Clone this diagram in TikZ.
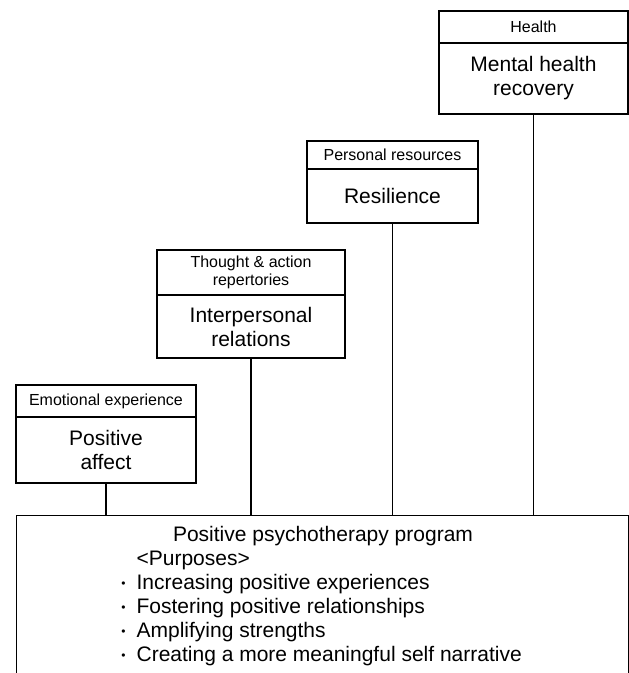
\documentclass[tikz,border=0pt]{standalone}
\usepackage{fontspec}
\setmainfont{Liberation Sans}
\newcommand{\dotmark}{\llap{\fontsize{12}{12}\selectfont\raisebox{1.5pt}{•}\hspace{11pt}}}
\begin{document}
\begin{tikzpicture}[x=1pt,y=1pt,line width=1.2pt,
  headbox/.style={draw,inner sep=0pt,align=center,font=\fontsize{16}{18}\selectfont},
  mainbox/.style={draw,inner sep=0pt,align=center,font=\fontsize{21}{24}\selectfont},
  purpose/.style={anchor=base west,inner sep=0pt,font=\fontsize{21}{24}\selectfont}]
\useasboundingbox (0,0) rectangle (629,673);
% ---------- stacked outcome boxes ----------
\node[headbox,minimum width=180pt,minimum height=32pt] (emotitle) at (106,272) {Emotional experience};
\node[mainbox,minimum width=180pt,minimum height=66pt] (affect) at (106,223) {Positive\\affect};
\node[headbox,minimum width=188pt,minimum height=45pt] (thoughttitle) at (251,400.5) {Thought \& action\\repertories};
\node[mainbox,minimum width=188pt,minimum height=63pt] (relations) at (251,346.5) {Interpersonal\\relations};
\node[headbox,minimum width=171pt,minimum height=28pt] (restitle) at (392.5,518) {Personal resources};
\node[mainbox,minimum width=171pt,minimum height=54pt] (resilience) at (392.5,477) {Resilience};
\node[headbox,minimum width=189pt,minimum height=32pt] (healthtitle) at (533.5,646) {Health};
\node[mainbox,minimum width=189pt,minimum height=71pt] (recovery) at (533.5,594.5) {Mental health\\recovery};
% ---------- program box (open at the bottom) ----------
\node[draw,anchor=north west,inner sep=0pt,minimum width=612pt,minimum height=190pt] (program) at (16,158) {};
\node[anchor=base,inner sep=0pt,font=\fontsize{21}{24}\selectfont] (progtitle) at (323,131.5) {Positive psychotherapy program};
\node[purpose] (purposes) at (136,107.5) {<Purposes>};
\node[purpose] (item1) at (136,83.5) {\dotmark Increasing positive experiences};
\node[purpose] (item2) at (136,59.5) {\dotmark Fostering positive relationships};
\node[purpose] (item3) at (136,35.5) {\dotmark Amplifying strengths};
\node[purpose] (item4) at (136,11.5) {\dotmark Creating a more meaningful self narrative};
% ---------- connectors ----------
\draw (affect.south) -- (affect.south |- program.north);
\draw (relations.south) -- (relations.south |- program.north);
\draw (resilience.south) -- (resilience.south |- program.north);
\draw (recovery.south) -- (recovery.south |- program.north);
\end{tikzpicture}
\end{document}
